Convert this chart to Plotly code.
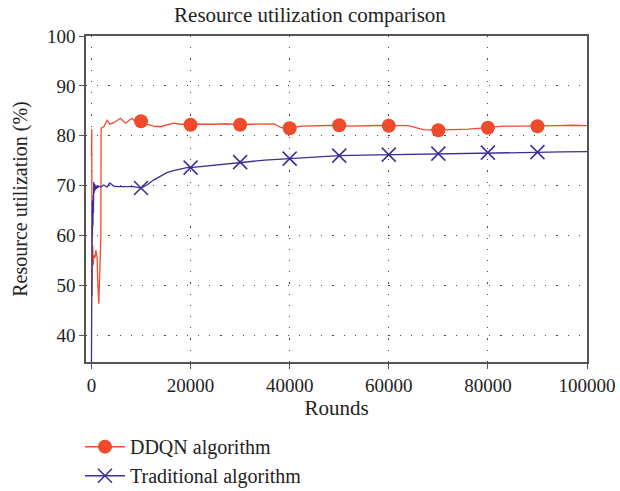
import plotly.graph_objects as go

# ---- data ----
ddqn_x = [0, 60, 130, 250, 350, 470, 700, 900, 1140, 1300, 1480, 1900, 1950, 2480, 3150, 3690,
          4490, 5840, 6840, 7510, 8180, 8850, 10000, 11200, 12540, 13880, 15220, 16570, 17910,
          19250, 20000, 21930, 25000, 27000, 30000, 32000, 34000, 36900, 38300, 40000, 42400,
          45000, 48000, 50000, 52000, 55000, 58000, 60000, 64000, 66900, 70000, 73000, 76000,
          80000, 83000, 86000, 90000, 94000, 97000, 100000]
ddqn_y = [75.8, 81.3, 47.8, 58.0, 54.0, 56.0, 55.5, 57.0, 55.5, 50.0, 46.3, 60.0, 81.5, 81.8, 83.1, 82.3,
          82.6, 83.5, 82.5, 83.0, 83.5, 82.8, 82.9, 82.3, 81.9, 81.8, 82.1, 82.5, 82.3,
          82.3, 82.2, 82.3, 82.3, 82.4, 82.2, 82.3, 82.3, 82.35, 81.6, 81.5, 81.9,
          82.0, 82.1, 82.1, 81.9, 82.0, 82.05, 82.0, 82.0, 81.2, 81.1, 81.2, 81.3,
          81.6, 81.9, 81.9, 81.9, 82.0, 82.1, 82.0]

trad_x = [0, 40, 80, 120, 160, 200, 250, 300, 350, 400, 470, 550, 650, 750, 850, 1000, 1150, 1300,
          1500, 1900, 2480, 3150, 3690, 4490, 5500, 7000, 8500, 10000, 11200, 12540, 13880, 15220,
          16570, 17910, 19250, 20000, 22000, 25000, 30000, 35000, 40000, 45000, 50000, 55000,
          60000, 65000, 70000, 75000, 80000, 85000, 90000, 95000, 100000]
trad_y = [34.6, 48.0, 63.0, 58.0, 67.0, 60.0, 66.5, 62.0, 68.0, 64.5, 70.7, 68.5, 70.3, 69.0, 70.0, 69.3, 70.0, 69.6,
          69.9, 69.7, 70.1, 69.7, 70.5, 69.9, 69.8, 69.8, 69.8, 69.5, 70.1, 71.1, 71.9, 72.6,
          73.0, 73.3, 73.6, 73.6, 73.8, 74.2, 74.7, 75.1, 75.4, 75.75, 76.0, 76.1,
          76.2, 76.3, 76.4, 76.5, 76.6, 76.65, 76.7, 76.75, 76.8]

x_ticks = [0, 20000, 40000, 60000, 80000, 100000]
y_ticks = [40, 50, 60, 70, 80, 90, 100]

RED = "#EF4A2B"
BLUE = "#3A2E98"
FONT = "Liberation Serif"
TXT = "#222222"


def marker_pts(xs, ys):
    px, py = [], []
    for a, b in zip(xs, ys):
        if a % 10000 == 0 and 0 < a < 100000:
            px.append(a)
            py.append(b)
    return px, py


fig = go.Figure()

# lines
fig.add_trace(go.Scatter(x=ddqn_x, y=ddqn_y, mode="lines", line=dict(color=RED, width=1.3),
                         showlegend=False, hoverinfo="skip"))
fig.add_trace(go.Scatter(x=trad_x, y=trad_y, mode="lines", line=dict(color=BLUE, width=1.3),
                         showlegend=False, hoverinfo="skip"))

# markers
mx, my = marker_pts(ddqn_x, ddqn_y)
fig.add_trace(go.Scatter(x=mx, y=my, mode="markers",
                         marker=dict(symbol="circle", size=14, color=RED), showlegend=False))
mx, my = marker_pts(trad_x, trad_y)
fig.add_trace(go.Scatter(x=mx, y=my, mode="markers",
                         marker=dict(symbol="x-thin", size=14, line=dict(color=BLUE, width=1.5)),
                         showlegend=False))

# legend entries
fig.add_trace(go.Scatter(x=[None], y=[None], mode="lines+markers", name="DDQN algorithm",
                         line=dict(color=RED, width=1.5),
                         marker=dict(symbol="circle", size=14, color=RED)))
fig.add_trace(go.Scatter(x=[None], y=[None], mode="lines+markers", name="Traditional algorithm",
                         line=dict(color=BLUE, width=1.5),
                         marker=dict(symbol="x-thin", size=14, line=dict(color=BLUE, width=1.5))))

axis_common = dict(
    showline=True, linecolor="#555555", linewidth=1.5, mirror=True,
    ticks="outside", ticklen=5, tickcolor="#555555", tickwidth=1.2,
    showgrid=True, gridcolor="#444444", gridwidth=1, griddash="1.2px,10px",
    zeroline=False, automargin=False, tickfont=dict(family=FONT, size=19, color=TXT),
)

fig.update_xaxes(range=[-1100, 100000], tickvals=x_ticks, ticktext=[str(v) for v in x_ticks],
                 title=dict(text="Rounds", font=dict(family=FONT, size=21, color=TXT), standoff=2),
                 **axis_common)
fig.update_yaxes(range=[34.6, 100], tickvals=y_ticks,
                 title=dict(text="Resource utilization (%)", font=dict(family=FONT, size=20, color=TXT),
                            standoff=14),
                 **axis_common)

fig.update_layout(
    width=620, height=491,
    margin=dict(l=86, r=33, t=36, b=129),
    paper_bgcolor="white", plot_bgcolor="white",
    title=dict(text="Resource utilization comparison", x=0.5, xanchor="center", y=0.985, yanchor="top",
               font=dict(family=FONT, size=21, color=TXT)),
    legend=dict(x=-0.012, y=0.13, xanchor="left", yanchor="top", yref="container", orientation="v",
                font=dict(family=FONT, size=20, color=TXT), tracegroupgap=0, itemwidth=40,
                bgcolor="rgba(0,0,0,0)"),
    font=dict(family=FONT),
)

fig.write_html("out.html")
